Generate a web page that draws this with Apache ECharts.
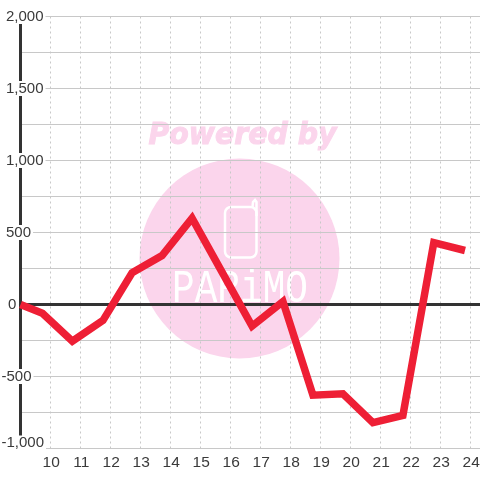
<!DOCTYPE html>
<html><head><meta charset="utf-8">
<style>html,body{margin:0;padding:0;background:#fff}#c{width:480px;height:480px}</style>
<script src="https://cdn.jsdelivr.net/npm/echarts@6/dist/echarts.min.js"></script>
</head><body><div id="c"></div>
<script>
const hours=[9,9.73,10.73,11.75,12.72,13.72,14.72,15.72,16.72,17.75,18.75,19.75,20.75,21.75,22.78,23.82];
const values=[0,-60,-255,-110,220,340,600,225,-150,20,-630,-620,-820,-770,430,375];
const yMin=-1000,yMax=2000,yStep=250,yLabelStep=500;
const xMin=9,xMax=24.32;
const pink='#fbd5ec';
const textColor='#3a3a3a';
const chart=echarts.init(document.getElementById('c'),null,{renderer:'canvas'});
const fontFamily='"Liberation Sans",Arial,sans-serif';
const tok=(left,extra)=>Object.assign({color:textColor,fontSize:15,fontFamily,lineHeight:15,backgroundColor:'#fff',padding:[0,2,0,left]},extra||{});
chart.setOption({
  animation:false,
  backgroundColor:'#fff',
  grid:{left:20.5,right:0,top:16.5,bottom:31.5,containLabel:false,outerBoundsMode:'none'},
  xAxis:[{
    type:'value',min:xMin,max:xMax,interval:1,position:'bottom',
    axisLine:{show:false,onZero:false},axisTick:{show:false},
    axisLabel:{show:true,color:textColor,fontSize:15.5,fontFamily,margin:6,padding:[0,0,0,1.5],showMinLabel:false,showMaxLabel:false,
      hideOverlap:false,formatter:v=>Number.isInteger(v)&&v>=10?String(v):''},
    splitLine:{show:true,showMinLine:false,showMaxLine:false,lineStyle:{color:'#c8c8c8',type:[2,3],width:1}}
  },{
    type:'value',min:xMin,max:xMax,position:'bottom',
    axisLine:{show:true,onZero:true,lineStyle:{color:'#333',width:3}},
    axisTick:{show:false},axisLabel:{show:false},splitLine:{show:false}
  }],
  yAxis:{
    type:'value',min:yMin,max:yMax,interval:yStep,
    axisLine:{show:true,onZero:false,lineStyle:{color:'#333',width:3}},axisTick:{show:false},
    axisLabel:{margin:19,align:'left',hideOverlap:false,
      formatter:v=>{
        if(v%yLabelStep!==0)return '';
        const t=v.toLocaleString('en-US');
        if(v===yMin)return '{low|'+t+'}';
        if(v<0)return '{neg|'+t+'}';
        if(v===0)return '{zero|'+t+'}';
        return '{pos|'+t+'}';
      },
      rich:{pos:tok(4.5),zero:tok(6.5),neg:tok(0),low:{color:textColor,fontSize:15,fontFamily,lineHeight:15,backgroundColor:'#fff',padding:[0,2,11,0]}}
    },
    splitLine:{show:true,lineStyle:{color:'#c8c8c8',width:1}}
  },
  graphic:[
    {type:'circle',z:-10,shape:{cx:239.5,cy:258.5,r:100},style:{fill:pink}},
    {type:'text',z:-10,x:242.5,y:136,scaleX:.945,style:{text:'Powered by',fill:pink,stroke:pink,lineWidth:1,font:'italic bold 30px "DejaVu Sans",sans-serif',align:'center',verticalAlign:'middle'}},
    {type:'rect',z:-9,shape:{x:225,y:207,width:31.5,height:50.5,r:6},style:{fill:'none',stroke:'#fff',lineWidth:2.5}},
    {type:'polyline',z:-9,shape:{points:[[252.5,207],[253,202],[255,200],[256.5,202],[256.5,216]]},style:{fill:'none',stroke:'#fff',lineWidth:2.5}},
    {type:'text',z:-9,x:240,y:290,scaleX:.82,style:{text:'PARiMO',fill:'#fff',font:'46px "Liberation Mono",monospace',align:'center',verticalAlign:'middle'}}
  ],
  series:[{
    type:'line',xAxisIndex:0,data:hours.map((h,i)=>[h,values[i]]),symbol:'none',smooth:false,z:5,
    lineStyle:{color:'#ee1f35',width:7.5,join:'miter',cap:'butt'}
  }]
});
</script></body></html>
